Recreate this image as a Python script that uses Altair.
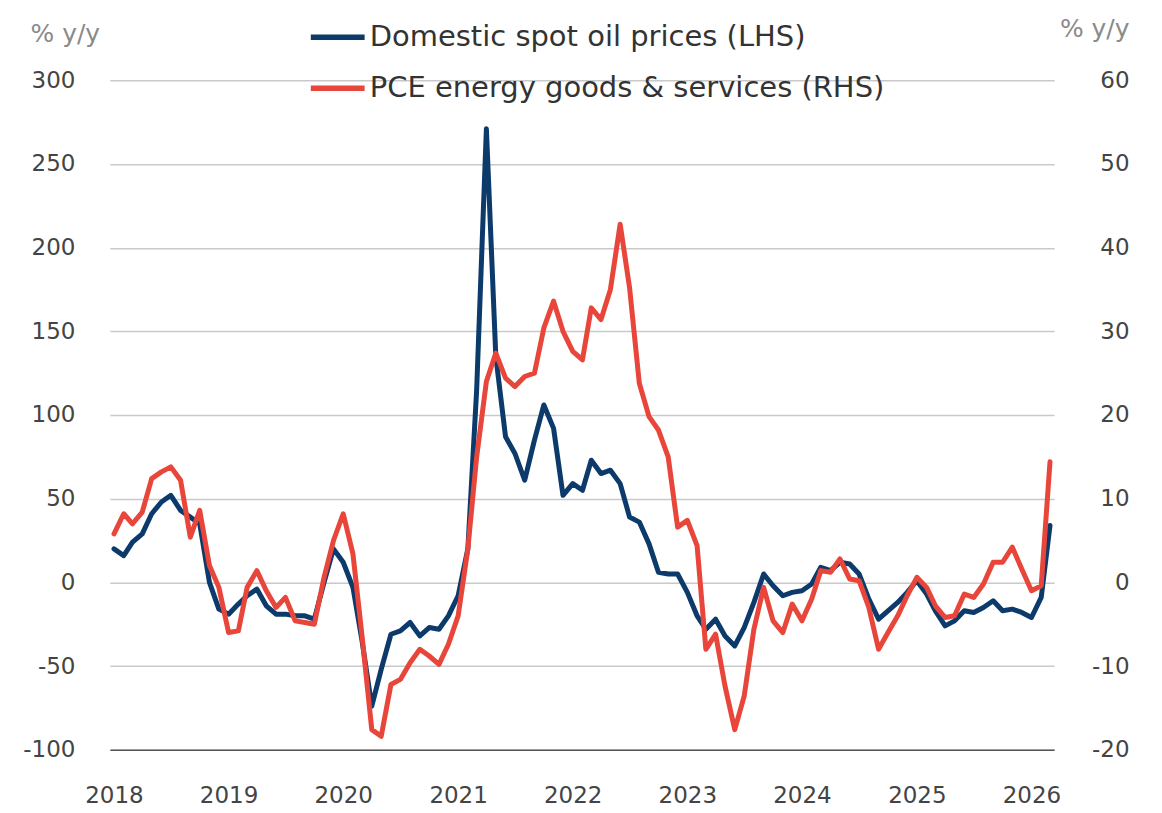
import altair as alt
import pandas as pd

# Monthly observations, Jan 2018 - Mar 2026
months = pd.date_range("2018-01-01", periods=99, freq="MS").strftime("%Y-%m-%d").tolist()

# Domestic spot oil prices, % y/y (LHS)
oil = [20, 16, 24, 29, 41, 48, 52, 43, 39, 35,
       0, -16, -19, -13, -8, -4, -14, -19, -19, -20,
       -20, -22, 0, 20, 12, -3, -35, -74, -52, -31,
       -29, -24, -32, -27, -28, -20, -8, 20, 115, 271,
       135, 87, 77, 61, 85, 106, 92, 52, 59, 55,
       73, 65, 67, 59, 39, 36, 23, 6, 5, 5,
       -6, -20, -28, -22, -32, -38, -27, -12, 5, -2,
       -8, -6, -5, -1, 9, 7, 12, 11, 5, -10,
       -22, -17, -12, -6, 1, -7, -17, -26, -23, -17,
       -18, -15, -11, -17, -16, -18, -21, -9, 34]

# PCE energy goods & services, % y/y (RHS)
pce = [5.8, 8.2, 7.0, 8.4, 12.4, 13.2, 13.8, 12.2, 5.4, 8.6,
       2.0, -0.6, -6.0, -5.8, -0.6, 1.4, -1.0, -3.0, -1.8, -4.6,
       -4.8, -5.0, 0.6, 5.0, 8.2, 3.4, -6.4, -17.6, -18.4, -12.2,
       -11.6, -9.6, -8.0, -8.8, -9.8, -7.4, -4.0, 4.0, 15.0, 24.0,
       27.4, 24.4, 23.4, 24.6, 25.0, 30.4, 33.6, 30.0, 27.6, 26.6,
       32.8, 31.4, 35.0, 42.8, 35.2, 23.8, 19.8, 18.2, 15.0, 6.6,
       7.4, 4.4, -8.0, -6.2, -12.4, -17.6, -13.6, -5.6, -0.6, -4.6,
       -6.0, -2.6, -4.6, -2.0, 1.4, 1.2, 2.8, 0.4, 0.2, -3.0,
       -8.0, -6.0, -4.0, -1.6, 0.6, -0.6, -2.8, -4.2, -4.0, -1.4,
       -1.8, -0.2, 2.4, 2.4, 4.2, 1.6, -1.0, -0.4, 14.4]

names = ["Domestic spot oil prices (LHS)", "PCE energy goods & services (RHS)"]
left_ticks = [-100, -50, 0, 50, 100, 150, 200, 250, 300]
right_ticks = [-20, -10, 0, 10, 20, 30, 40, 50, 60]

df_oil = pd.DataFrame({"date": months, "oil": oil, "series": names[0]})
df_pce = pd.DataFrame({"date": months, "pce": pce, "series": names[1]})

FONT = "DejaVu Sans"
BLUE = "#0b3a6b"
RED = "#e8463a"
LABEL = "#444444"
MUTED = "#8a8a8a"

x_enc = alt.X(
    "date:T",
    scale=alt.Scale(domain=["2017-12-19", "2026-03-14"]),
    axis=alt.Axis(
        title=None, format="%Y", tickCount={"interval": "year", "step": 1},
        grid=False, ticks=False, domain=True, domainColor="#555555", domainWidth=1.5,
        labelFont=FONT, labelFontSize=23, labelColor=LABEL, labelPadding=35,
        labelFlush=False,
    ),
)

color = alt.Color(
    "series:N",
    scale=alt.Scale(domain=names, range=[BLUE, RED]),
    legend=alt.Legend(
        orient="none", legendX=198, legendY=-73, title=None,
        symbolType="stroke", symbolStrokeWidth=5.5, symbolSize=2900,
        labelFont=FONT, labelFontSize=29, labelColor="#333333", labelLimit=0,
        labelOffset=2, rowPadding=6, padding=0,
    ),
)

left = alt.Chart(df_oil).mark_line(strokeWidth=5, strokeJoin="round", strokeCap="round").encode(
    x=x_enc,
    y=alt.Y(
        "oil:Q",
        scale=alt.Scale(domain=[-100, 300], nice=False, zero=False),
        axis=alt.Axis(
            orient="left", values=left_ticks, grid=True, gridColor="#c9c9c9", gridWidth=1.5,
            domain=False, ticks=False, labelFont=FONT, labelFontSize=23, labelColor=LABEL,
            labelPadding=35, labelExpr="'' + datum.value",
            title="% y/y", titleAngle=0, titleX=-80, titleY=-47, titleAlign="left",
            titleBaseline="middle", titleFont=FONT, titleFontSize=25,
            titleFontWeight="normal", titleColor=MUTED,
        ),
    ),
    color=color,
)

right = alt.Chart(df_pce).mark_line(strokeWidth=5, strokeJoin="round", strokeCap="round").encode(
    x=x_enc,
    y=alt.Y(
        "pce:Q",
        scale=alt.Scale(domain=[-20, 60], nice=False, zero=False),
        axis=alt.Axis(
            orient="right", values=right_ticks, grid=False,
            domain=False, ticks=False, labelFont=FONT, labelFontSize=23, labelColor=LABEL,
            labelAlign="right", labelPadding=75, labelExpr="'' + datum.value",
            title="% y/y", titleAngle=0, titleX=75, titleY=-52, titleAlign="right",
            titleBaseline="middle", titleFont=FONT, titleFontSize=25,
            titleFontWeight="normal", titleColor=MUTED,
        ),
    ),
    color=color,
)

chart = (
    alt.layer(left, right)
    .resolve_scale(y="independent")
    .properties(
        width=945, height=670,
        padding={"left": 102, "top": 72, "right": 100, "bottom": 62},
        autosize=alt.AutoSizeParams(type="none"),
        background="white",
    )
    .configure_view(stroke=None)
)

chart.save("out.html", embed_options={"renderer": "svg", "actions": False})
